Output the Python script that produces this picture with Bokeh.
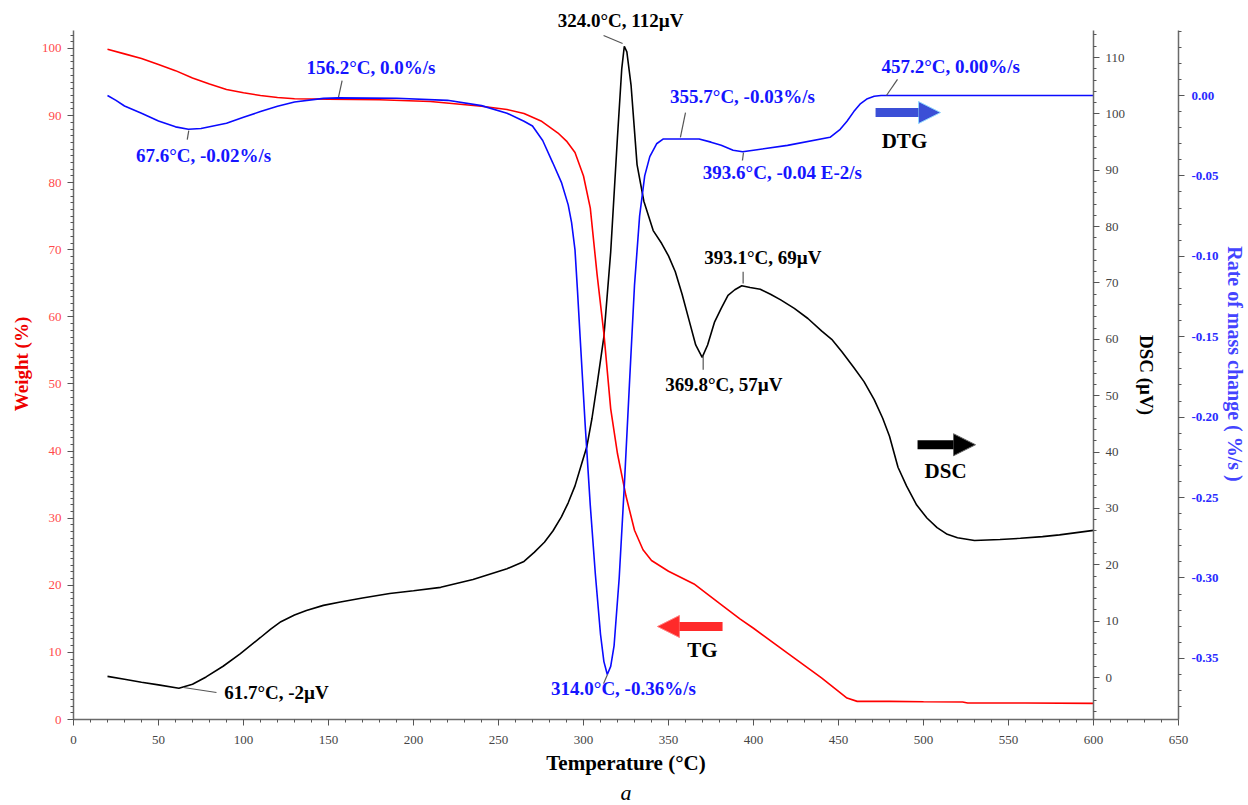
from bokeh.plotting import figure
from bokeh.models import (Range1d, LinearAxis, FixedTicker, PrintfTickFormatter,
                          Label, Arrow, NormalHead, Title)
from bokeh.embed import file_html
from bokeh.resources import INLINE

# ---------------- data ----------------
tg_T = [20, 30, 40, 50, 60, 70, 80, 90, 100, 110, 120, 130, 150, 180, 210, 240, 255, 265,
        275, 285, 290, 295, 300, 304, 308, 312, 316, 320, 325, 330, 335, 340, 350, 365,
        380, 392, 400, 420, 440, 455, 461, 480, 500, 523, 526, 560, 600]
tg_W = [99.9, 99.2, 98.5, 97.6, 96.7, 95.6, 94.7, 93.9, 93.4, 93.0, 92.7, 92.5, 92.45,
        92.35, 92.1, 91.4, 90.9, 90.3, 89.2, 87.4, 86.2, 84.5, 81.0, 76.2, 66.3, 57.5,
        46.3, 39.6, 33.3, 28.2, 25.3, 23.7, 22.1, 20.2, 17.3, 15.0, 13.6, 9.9, 6.2, 3.2,
        2.7, 2.7, 2.65, 2.6, 2.45, 2.45, 2.4]

dsc_T = [20, 30, 40, 50, 62, 70, 78, 88, 98, 110, 116, 122, 130, 137, 147, 157, 170, 186, 200,
         216, 235, 255, 265, 271, 277, 282, 287, 291, 295, 299, 302, 305, 308, 312, 316,
         320, 322.5, 324, 325.5, 328, 331.5, 335.5, 341, 346, 350, 354, 358, 362, 366,
         369.8, 373, 377, 381, 385, 389, 393.1, 398, 404, 410, 416, 424, 432, 440, 446,
         452, 459, 465, 471, 476, 480, 485, 490, 496, 502, 508, 514, 520, 530, 545, 557,
         570, 580, 590, 600]
dsc_D = [0.2, -0.3, -0.85, -1.3, -1.9, -1.2, 0.1, 2.0, 4.2, 7.1, 8.6, 9.9, 11.1, 11.9, 12.8,
         13.4, 14.1, 14.9, 15.4, 16.0, 17.4, 19.3, 20.6, 22.2, 24.0, 26.0, 28.5, 31.0, 34.0,
         38.0, 41.0, 46.0, 52.0, 60.5, 75.5, 96.0, 108.0, 112.0, 111.0, 105.0, 91.0, 84.5,
         79.3, 77.0, 74.8, 72.0, 68.0, 63.5, 59.0, 56.8, 59.0, 63.0, 65.5, 67.8, 68.8, 69.5,
         69.2, 68.9, 68.0, 67.0, 65.5, 63.7, 61.5, 60.0, 57.8, 55.0, 52.5, 49.3, 46.0, 42.8,
         37.3, 34.0, 30.6, 28.3, 26.6, 25.4, 24.8, 24.3, 24.5, 24.7, 25.0, 25.3, 25.7, 26.1]

dtg_T = [20, 25, 30, 40, 50, 60, 67.6, 75, 90, 100, 110, 120, 130, 147, 156, 190, 220, 240,
         255, 265, 270, 276, 282, 287, 291, 293, 295, 296.5, 298, 301, 304, 307, 310, 312, 314,
         316, 318, 321, 324, 327, 330, 333, 336, 339, 343, 347, 355.7, 368, 375, 381, 388,
         393.6, 400, 420, 445, 451, 455, 459, 463, 467, 471, 475, 500, 550, 600]
dtg_R = [0.0, -0.003, -0.0065, -0.011, -0.0158, -0.0195, -0.021, -0.0205, -0.0172, -0.0135,
         -0.010, -0.0067, -0.004, -0.0018, -0.0015, -0.0017, -0.003, -0.0063, -0.011, -0.016,
         -0.019, -0.028, -0.042, -0.054, -0.068, -0.079, -0.096, -0.122, -0.150, -0.205,
         -0.255, -0.298, -0.335, -0.352, -0.360, -0.355, -0.342, -0.300, -0.243, -0.180,
         -0.118, -0.075, -0.050, -0.038, -0.030, -0.027, -0.027, -0.027, -0.029, -0.031,
         -0.034, -0.035, -0.034, -0.031, -0.026, -0.021, -0.016, -0.010, -0.005, -0.002,
         -0.0005, 0.0, 0.0, 0.0, 0.0]

x_ticks = list(range(0, 651, 50))
w_ticks = list(range(0, 101, 10))
dsc_ticks = list(range(0, 111, 10))
dtg_ticks = [0.0, -0.05, -0.10, -0.15, -0.20, -0.25, -0.30, -0.35]

# annotation texts and where they sit (T, value on their own axis)
ann_text = ["324.0°C, 112µV", "156.2°C, 0.0%/s", "67.6°C, -0.02%/s", "355.7°C, -0.03%/s",
            "393.6°C, -0.04 E-2/s", "457.2°C, 0.00%/s", "314.0°C, -0.36%/s",
            "61.7°C, -2µV", "369.8°C, 57µV", "393.1°C, 69µV"]
ann_axis = ["dsc", "dtg", "dtg", "dtg", "dtg", "dtg", "dtg", "dsc", "dsc", "dsc"]
ann_x = [321.8, 175.0, 76.5, 393.5, 417.0, 516.0, 323.5, 119.4, 382.5, 405.5]
ann_y = [116.6, 0.0174, -0.0373, -0.0006, -0.0479, 0.018, -0.3688, -2.66, 52.0, 74.5]
ann_color = ["black", "#1515ff", "#1515ff", "#1515ff", "#1515ff", "#1515ff", "#1515ff",
             "black", "black", "black"]

lead_dsc_x0 = [311.8, 64.7, 370.4, 393.9]
lead_dsc_y0 = [113.9, -1.77, 57.1, 72.0]
lead_dsc_x1 = [323.0, 84.1, 370.4, 393.9]
lead_dsc_y1 = [112.5, -2.66, 54.6, 69.9]
lead_dtg_x0 = [158.0, 66.9, 360.0, 393.5, 484.7, 311.8]
lead_dtg_y0 = [0.0093, -0.0274, -0.0106, -0.0404, 0.010, -0.3657]
lead_dtg_x1 = [155.9, 67.8, 357.0, 394.1, 478.2, 314.1]
lead_dtg_y1 = [-0.0010, -0.0218, -0.0261, -0.0355, 0.0, -0.360]

SERIF = "Liberation Serif"

# axis extents (the drawn rule) vs. the visible data window
W_LO, W_HI, W_TOP = 0, 102.7, 105.96
D_LO, D_HI, D_TOP = -7.45, 114.8, 118.7
R_LO, R_HI, R_TOP = -0.388, 0.0404, 0.0541

# ---------------- figure ----------------
p = figure(width=1248, height=805, x_range=Range1d(0, 650), y_range=Range1d(W_LO, W_TOP),
           output_backend="svg", toolbar_location=None,
           min_border_left=73, min_border_right=70, min_border_top=8, min_border_bottom=86,
           x_axis_label="Temperature (°C)", y_axis_label="Weight (%)")
p.extra_y_ranges = {"dsc": Range1d(D_LO, D_TOP), "dtg": Range1d(R_LO, R_TOP)}
p.grid.visible = False
p.outline_line_color = None
p.background_fill_color = "white"
p.border_fill_color = "white"


def style_axis(ax, label_color, tick_color, label_size, tick_bold=False):
    ax.axis_line_color = "#6a6a6a"
    ax.axis_line_width = 1.5
    ax.major_tick_line_color = "#555555"
    ax.minor_tick_line_color = "#555555"
    ax.major_tick_in = 0
    ax.major_tick_out = 6
    ax.minor_tick_in = 0
    ax.minor_tick_out = 3
    ax.major_label_text_font = SERIF
    ax.major_label_text_font_size = "13px"
    ax.major_label_text_color = tick_color
    ax.major_label_text_font_style = "bold" if tick_bold else "normal"
    ax.major_label_standoff = 6
    ax.axis_label_text_font = SERIF
    ax.axis_label_text_font_style = "bold"
    ax.axis_label_text_font_size = label_size
    ax.axis_label_text_color = label_color


xa = p.xaxis[0]
xa.ticker = FixedTicker(ticks=x_ticks, minor_ticks=list(range(0, 651, 10)))
style_axis(xa, "black", "#444444", "21px")
xa.major_label_standoff = 10
xa.axis_label_standoff = 4

ya = p.yaxis[0]
ya.ticker = FixedTicker(ticks=w_ticks, minor_ticks=list(range(0, 103, 1)))
ya.bounds = (W_LO, W_HI)
style_axis(ya, "#ee0000", "#ff4a4a", "19px")
ya.axis_label_standoff = 7

dtg_axis = LinearAxis(y_range_name="dtg", axis_label="Rate of mass change ( %/s )",
                      bounds=(R_LO, R_HI),
                      ticker=FixedTicker(ticks=dtg_ticks,
                                         minor_ticks=[round(-0.38 + 0.01 * i, 2) for i in range(43)]),
                      formatter=PrintfTickFormatter(format="%.2f"))
style_axis(dtg_axis, "#4444ff", "#2a2aff", "20px", tick_bold=True)
dtg_axis.major_label_standoff = 7
dtg_axis.axis_label_standoff = 2
p.add_layout(dtg_axis, "right")

dsc_axis = LinearAxis(y_range_name="dsc", axis_label="DSC (µV)", fixed_location=600,
                      bounds=(D_LO, D_HI),
                      ticker=FixedTicker(ticks=dsc_ticks, minor_ticks=list(range(-6, 115, 2))))
style_axis(dsc_axis, "black", "#444444", "19px")
dsc_axis.axis_label_standoff = 8
p.add_layout(dsc_axis, "right")

# caption
p.add_layout(Title(text="a", align="center", text_font=SERIF, text_font_style="italic",
                   text_font_size="22px", text_color="black", standoff=0), "below")

# ---------------- curves ----------------
p.line(dsc_T, dsc_D, line_color="black", line_width=1.6, y_range_name="dsc")
p.line(tg_T, tg_W, line_color="#ff0000", line_width=1.6)
p.line(dtg_T, dtg_R, line_color="#0a0aff", line_width=1.6, y_range_name="dtg")

# leader lines
p.segment(lead_dsc_x0, lead_dsc_y0, lead_dsc_x1, lead_dsc_y1, line_color="#555555",
          line_width=1.2, y_range_name="dsc")
p.segment(lead_dtg_x0, lead_dtg_y0, lead_dtg_x1, lead_dtg_y1, line_color="#555555",
          line_width=1.2, y_range_name="dtg")

# annotation labels
for t, ax, x, y, c in zip(ann_text, ann_axis, ann_x, ann_y, ann_color):
    p.add_layout(Label(x=x, y=y, text=t, y_range_name=ax, text_align="center",
                       text_baseline="middle", text_font=SERIF, text_font_style="bold",
                       text_font_size="19px", text_color=c))

# curve arrows + names
p.add_layout(Arrow(x_start=381.8, y_start=13.86, x_end=343.5, y_end=13.86,
                   line_color="#ff2a2a", line_width=9,
                   end=NormalHead(size=22, fill_color="#ff2a2a", line_color="#ff8080")))
p.add_layout(Label(x=370, y=10.4, text="TG", text_align="center", text_baseline="middle",
                   text_font=SERIF, text_font_style="bold", text_font_size="21px",
                   text_color="black"))
p.add_layout(Arrow(x_start=471.8, y_start=-0.0106, x_end=510.0, y_end=-0.0106,
                   y_range_name="dtg", line_color="#3b4fd6", line_width=9,
                   end=NormalHead(size=22, fill_color="#3b4fd6", line_color="#8fd8ff")))
p.add_layout(Label(x=488.8, y=-0.028, y_range_name="dtg", text="DTG", text_align="center",
                   text_baseline="middle", text_font=SERIF, text_font_style="bold",
                   text_font_size="21px", text_color="black"))
p.add_layout(Arrow(x_start=496.5, y_start=41.3, x_end=530.6, y_end=41.3,
                   y_range_name="dsc", line_color="black", line_width=9,
                   end=NormalHead(size=22, fill_color="black", line_color="#666666")))
p.add_layout(Label(x=513, y=36.7, y_range_name="dsc", text="DSC", text_align="center",
                   text_baseline="middle", text_font=SERIF, text_font_style="bold",
                   text_font_size="21px", text_color="black"))

open("out.html", "w").write(file_html(p, INLINE))
